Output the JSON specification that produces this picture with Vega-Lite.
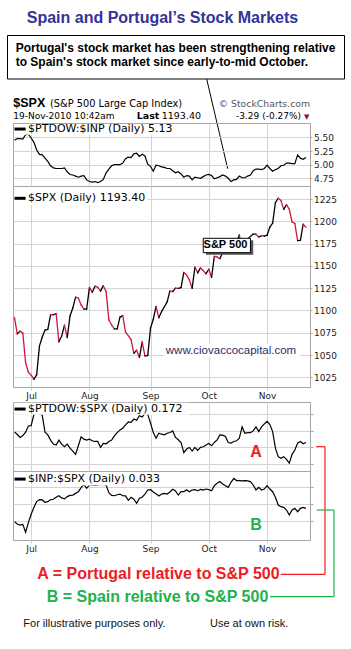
{
"$schema": "https://vega.github.io/schema/vega-lite/v6.json",
"background": "white",
"padding": {"left": 7, "top": 0, "right": 0, "bottom": 0},
"spacing": 0,
"bounds": "flush",
"config": {
  "view": {"stroke": "#a6a6a6", "strokeWidth": 1},
  "axis": {"labelFont": "DejaVu Sans", "labelFontSize": 9, "labelColor": "#222222", "gridColor": "#d4d4d4", "gridWidth": 1, "tickColor": "#a6a6a6", "domain": false, "labelOverlap": false}
},
"datasets": {"mkt": [
{"date":"2010-06-23","spx":1092.04,"ptinp":5.45,"ptspx":0.1746,"inpspx":0.03196},
{"date":"2010-06-24","spx":1073.69,"ptinp":5.48,"ptspx":0.1738,"inpspx":0.03182},
{"date":"2010-06-25","spx":1076.76,"ptinp":5.48,"ptspx":0.1729,"inpspx":0.03176},
{"date":"2010-06-28","spx":1074.57,"ptinp":5.47,"ptspx":0.1735,"inpspx":0.03180},
{"date":"2010-06-29","spx":1041.24,"ptinp":5.55,"ptspx":0.1745,"inpspx":0.03133},
{"date":"2010-06-30","spx":1030.71,"ptinp":5.56,"ptspx":0.1764,"inpspx":0.03190},
{"date":"2010-07-01","spx":1027.37,"ptinp":5.49,"ptspx":0.1765,"inpspx":0.03240},
{"date":"2010-07-02","spx":1022.58,"ptinp":5.41,"ptspx":0.1799,"inpspx":0.03281},
{"date":"2010-07-06","spx":1028.06,"ptinp":5.27,"ptspx":0.1806,"inpspx":0.03315},
{"date":"2010-07-07","spx":1060.27,"ptinp":5.19,"ptspx":0.1804,"inpspx":0.03327},
{"date":"2010-07-08","spx":1070.25,"ptinp":5.18,"ptspx":0.1796,"inpspx":0.03325},
{"date":"2010-07-09","spx":1077.96,"ptinp":5.12,"ptspx":0.1745,"inpspx":0.03311},
{"date":"2010-07-12","spx":1078.75,"ptinp":5.06,"ptspx":0.1737,"inpspx":0.03315},
{"date":"2010-07-13","spx":1095.34,"ptinp":4.98,"ptspx":0.1721,"inpspx":0.03327},
{"date":"2010-07-14","spx":1095.17,"ptinp":4.94,"ptspx":0.1709,"inpspx":0.03329},
{"date":"2010-07-15","spx":1096.48,"ptinp":4.93,"ptspx":0.1706,"inpspx":0.03341},
{"date":"2010-07-16","spx":1064.88,"ptinp":4.93,"ptspx":0.1721,"inpspx":0.03350},
{"date":"2010-07-19","spx":1071.25,"ptinp":4.93,"ptspx":0.1709,"inpspx":0.03337},
{"date":"2010-07-20","spx":1083.48,"ptinp":4.94,"ptspx":0.1701,"inpspx":0.03331},
{"date":"2010-07-21","spx":1069.59,"ptinp":4.87,"ptspx":0.1709,"inpspx":0.03345},
{"date":"2010-07-22","spx":1093.67,"ptinp":4.82,"ptspx":0.1697,"inpspx":0.03352},
{"date":"2010-07-23","spx":1102.66,"ptinp":4.81,"ptspx":0.1688,"inpspx":0.03354},
{"date":"2010-07-26","spx":1115.01,"ptinp":4.79,"ptspx":0.1678,"inpspx":0.03364},
{"date":"2010-07-27","spx":1113.84,"ptinp":4.77,"ptspx":0.1704,"inpspx":0.03374},
{"date":"2010-07-28","spx":1106.13,"ptinp":4.79,"ptspx":0.1731,"inpspx":0.03398},
{"date":"2010-07-29","spx":1101.53,"ptinp":4.80,"ptspx":0.1724,"inpspx":0.03418},
{"date":"2010-07-30","spx":1101.60,"ptinp":4.72,"ptspx":0.1721,"inpspx":0.03394},
{"date":"2010-08-02","spx":1125.86,"ptinp":4.69,"ptspx":0.1724,"inpspx":0.03414},
{"date":"2010-08-03","spx":1120.46,"ptinp":4.68,"ptspx":0.1719,"inpspx":0.03415},
{"date":"2010-08-04","spx":1127.24,"ptinp":4.69,"ptspx":0.1717,"inpspx":0.03412},
{"date":"2010-08-05","spx":1125.81,"ptinp":4.67,"ptspx":0.1717,"inpspx":0.03415},
{"date":"2010-08-06","spx":1121.64,"ptinp":4.69,"ptspx":0.1699,"inpspx":0.03418},
{"date":"2010-08-09","spx":1127.79,"ptinp":4.73,"ptspx":0.1711,"inpspx":0.03416},
{"date":"2010-08-10","spx":1121.06,"ptinp":4.85,"ptspx":0.1710,"inpspx":0.03413},
{"date":"2010-08-11","spx":1089.47,"ptinp":4.92,"ptspx":0.1717,"inpspx":0.03368},
{"date":"2010-08-12","spx":1083.61,"ptinp":4.98,"ptspx":0.1721,"inpspx":0.03352},
{"date":"2010-08-13","spx":1079.25,"ptinp":5.00,"ptspx":0.1734,"inpspx":0.03350},
{"date":"2010-08-16","spx":1079.38,"ptinp":5.00,"ptspx":0.1744,"inpspx":0.03356},
{"date":"2010-08-17","spx":1092.54,"ptinp":5.00,"ptspx":0.1752,"inpspx":0.03360},
{"date":"2010-08-18","spx":1094.16,"ptinp":5.03,"ptspx":0.1757,"inpspx":0.03350},
{"date":"2010-08-19","spx":1075.63,"ptinp":5.11,"ptspx":0.1767,"inpspx":0.03349},
{"date":"2010-08-20","spx":1071.69,"ptinp":5.14,"ptspx":0.1776,"inpspx":0.03323},
{"date":"2010-08-23","spx":1067.36,"ptinp":5.13,"ptspx":0.1775,"inpspx":0.03341},
{"date":"2010-08-24","spx":1051.87,"ptinp":5.20,"ptspx":0.1785,"inpspx":0.03329},
{"date":"2010-08-25","spx":1055.33,"ptinp":5.21,"ptspx":0.1781,"inpspx":0.03305},
{"date":"2010-08-26","spx":1047.22,"ptinp":5.15,"ptspx":0.1795,"inpspx":0.03335},
{"date":"2010-08-27","spx":1064.59,"ptinp":5.19,"ptspx":0.1791,"inpspx":0.03341},
{"date":"2010-08-30","spx":1048.92,"ptinp":5.16,"ptspx":0.1803,"inpspx":0.03360},
{"date":"2010-08-31","spx":1049.33,"ptinp":5.01,"ptspx":0.1799,"inpspx":0.03384},
{"date":"2010-09-01","spx":1080.29,"ptinp":4.97,"ptspx":0.1773,"inpspx":0.03386},
{"date":"2010-09-02","spx":1090.10,"ptinp":4.88,"ptspx":0.1744,"inpspx":0.03372},
{"date":"2010-09-03","spx":1104.51,"ptinp":4.99,"ptspx":0.1727,"inpspx":0.03362},
{"date":"2010-09-07","spx":1091.84,"ptinp":4.98,"ptspx":0.1742,"inpspx":0.03349},
{"date":"2010-09-08","spx":1098.87,"ptinp":4.96,"ptspx":0.1739,"inpspx":0.03360},
{"date":"2010-09-09","spx":1104.18,"ptinp":4.95,"ptspx":0.1737,"inpspx":0.03364},
{"date":"2010-09-10","spx":1109.55,"ptinp":4.93,"ptspx":0.1742,"inpspx":0.03360},
{"date":"2010-09-13","spx":1121.90,"ptinp":4.93,"ptspx":0.1744,"inpspx":0.03372},
{"date":"2010-09-14","spx":1121.10,"ptinp":4.89,"ptspx":0.1749,"inpspx":0.03388},
{"date":"2010-09-15","spx":1125.07,"ptinp":4.85,"ptspx":0.1729,"inpspx":0.03378},
{"date":"2010-09-16","spx":1124.66,"ptinp":4.87,"ptspx":0.1722,"inpspx":0.03354},
{"date":"2010-09-17","spx":1125.59,"ptinp":4.83,"ptspx":0.1714,"inpspx":0.03374},
{"date":"2010-09-20","spx":1142.71,"ptinp":4.77,"ptspx":0.1683,"inpspx":0.03374},
{"date":"2010-09-21","spx":1139.78,"ptinp":4.80,"ptspx":0.1694,"inpspx":0.03386},
{"date":"2010-09-22","spx":1134.28,"ptinp":4.79,"ptspx":0.1699,"inpspx":0.03374},
{"date":"2010-09-23","spx":1124.83,"ptinp":4.72,"ptspx":0.1688,"inpspx":0.03384},
{"date":"2010-09-24","spx":1148.67,"ptinp":4.77,"ptspx":0.1699,"inpspx":0.03386},
{"date":"2010-09-27","spx":1142.16,"ptinp":4.76,"ptspx":0.1690,"inpspx":0.03380},
{"date":"2010-09-28","spx":1147.70,"ptinp":4.75,"ptspx":0.1699,"inpspx":0.03388},
{"date":"2010-09-29","spx":1144.73,"ptinp":4.78,"ptspx":0.1701,"inpspx":0.03384},
{"date":"2010-09-30","spx":1141.20,"ptinp":4.81,"ptspx":0.1706,"inpspx":0.03390},
{"date":"2010-10-01","spx":1146.24,"ptinp":4.82,"ptspx":0.1711,"inpspx":0.03386},
{"date":"2010-10-04","spx":1137.03,"ptinp":4.80,"ptspx":0.1704,"inpspx":0.03380},
{"date":"2010-10-05","spx":1160.75,"ptinp":4.74,"ptspx":0.1714,"inpspx":0.03410},
{"date":"2010-10-06","spx":1159.97,"ptinp":4.76,"ptspx":0.1722,"inpspx":0.03424},
{"date":"2010-10-07","spx":1158.06,"ptinp":4.78,"ptspx":0.1737,"inpspx":0.03434},
{"date":"2010-10-08","spx":1165.15,"ptinp":4.81,"ptspx":0.1736,"inpspx":0.03420},
{"date":"2010-10-11","spx":1165.32,"ptinp":4.79,"ptspx":0.1732,"inpspx":0.03410},
{"date":"2010-10-12","spx":1169.77,"ptinp":4.75,"ptspx":0.1714,"inpspx":0.03400},
{"date":"2010-10-13","spx":1178.10,"ptinp":4.69,"ptspx":0.1712,"inpspx":0.03430},
{"date":"2010-10-14","spx":1173.81,"ptinp":4.72,"ptspx":0.1717,"inpspx":0.03453},
{"date":"2010-10-15","spx":1176.19,"ptinp":4.73,"ptspx":0.1719,"inpspx":0.03440},
{"date":"2010-10-18","spx":1184.71,"ptinp":4.79,"ptspx":0.1727,"inpspx":0.03440},
{"date":"2010-10-19","spx":1165.90,"ptinp":4.76,"ptspx":0.1761,"inpspx":0.03438},
{"date":"2010-10-20","spx":1178.17,"ptinp":4.76,"ptspx":0.1742,"inpspx":0.03440},
{"date":"2010-10-21","spx":1180.26,"ptinp":4.79,"ptspx":0.1744,"inpspx":0.03438},
{"date":"2010-10-22","spx":1183.08,"ptinp":4.81,"ptspx":0.1744,"inpspx":0.03434},
{"date":"2010-10-25","spx":1185.62,"ptinp":4.89,"ptspx":0.1749,"inpspx":0.03414},
{"date":"2010-10-26","spx":1185.64,"ptinp":4.92,"ptspx":0.1761,"inpspx":0.03384},
{"date":"2010-10-27","spx":1182.45,"ptinp":4.92,"ptspx":0.1747,"inpspx":0.03400},
{"date":"2010-10-28","spx":1183.78,"ptinp":4.91,"ptspx":0.1761,"inpspx":0.03384},
{"date":"2010-10-29","spx":1183.26,"ptinp":4.93,"ptspx":0.1770,"inpspx":0.03390},
{"date":"2010-11-01","spx":1184.38,"ptinp":4.99,"ptspx":0.1778,"inpspx":0.03410},
{"date":"2010-11-02","spx":1193.57,"ptinp":4.93,"ptspx":0.1768,"inpspx":0.03390},
{"date":"2010-11-03","spx":1197.96,"ptinp":4.88,"ptspx":0.1747,"inpspx":0.03374},
{"date":"2010-11-04","spx":1221.06,"ptinp":4.91,"ptspx":0.1697,"inpspx":0.03341},
{"date":"2010-11-05","spx":1225.85,"ptinp":4.93,"ptspx":0.1671,"inpspx":0.03295},
{"date":"2010-11-08","spx":1223.25,"ptinp":4.98,"ptspx":0.1666,"inpspx":0.03285},
{"date":"2010-11-09","spx":1213.40,"ptinp":4.99,"ptspx":0.1671,"inpspx":0.03281},
{"date":"2010-11-10","spx":1218.71,"ptinp":5.03,"ptspx":0.1663,"inpspx":0.03265},
{"date":"2010-11-11","spx":1213.54,"ptinp":5.03,"ptspx":0.1651,"inpspx":0.03236},
{"date":"2010-11-12","spx":1199.21,"ptinp":5.02,"ptspx":0.1678,"inpspx":0.03265},
{"date":"2010-11-15","spx":1197.75,"ptinp":5.02,"ptspx":0.1691,"inpspx":0.03275},
{"date":"2010-11-16","spx":1178.34,"ptinp":5.18,"ptspx":0.1712,"inpspx":0.03255},
{"date":"2010-11-17","spx":1178.59,"ptinp":5.12,"ptspx":0.1717,"inpspx":0.03275},
{"date":"2010-11-18","spx":1196.69,"ptinp":5.10,"ptspx":0.1710,"inpspx":0.03281},
{"date":"2010-11-19","spx":1193.40,"ptinp":5.13,"ptspx":0.1714,"inpspx":0.03275}
]},
"vconcat": [
{
 "width": 297, "height": 123, "view": {"stroke": null},
 "data": {"values": [{}]},
 "layer": [
  {"mark": {"type": "text", "text": "Spain and Portugal’s Stock Markets", "font": "Liberation Sans", "fontSize": 16, "fontWeight": "bold", "fill": "#333399", "align": "center", "baseline": "alphabetic", "clip": false},
   "encoding": {"x": {"datum": 162.5, "type": "quantitative", "scale": {"domain": [13, 310], "nice": false, "zero": false}, "axis": null},
                "y": {"datum": 22.7, "type": "quantitative", "scale": {"domain": [0, 123], "reverse": true, "nice": false, "zero": false}, "axis": null}}},
  {"mark": {"type": "rect", "fill": "white", "stroke": "black", "strokeWidth": 1, "clip": false},
   "encoding": {"x": {"datum": 7.5, "type": "quantitative", "scale": {"domain": [13, 310], "nice": false, "zero": false}, "axis": null},
                "x2": {"datum": 344.5},
                "y": {"datum": 35.5, "type": "quantitative", "scale": {"domain": [0, 123], "reverse": true, "nice": false, "zero": false}, "axis": null},
                "y2": {"datum": 79}}},
  {"mark": {"type": "text", "text": "Portugal's stock market has been strengthening relative", "font": "Liberation Sans", "fontSize": 12, "fontWeight": "bold", "fill": "black", "align": "left", "baseline": "alphabetic", "clip": false},
   "encoding": {"x": {"datum": 15.7, "type": "quantitative", "scale": {"domain": [13, 310], "nice": false, "zero": false}, "axis": null},
                "y": {"datum": 52.3, "type": "quantitative", "scale": {"domain": [0, 123], "reverse": true, "nice": false, "zero": false}, "axis": null}}},
  {"mark": {"type": "text", "text": "to Spain's stock market since early-to-mid October.", "font": "Liberation Sans", "fontSize": 12, "fontWeight": "bold", "fill": "black", "align": "left", "baseline": "alphabetic", "clip": false},
   "encoding": {"x": {"datum": 15.7, "type": "quantitative", "scale": {"domain": [13, 310], "nice": false, "zero": false}, "axis": null},
                "y": {"datum": 65.7, "type": "quantitative", "scale": {"domain": [0, 123], "reverse": true, "nice": false, "zero": false}, "axis": null}}},
  {"mark": {"type": "rule", "color": "black", "strokeWidth": 1, "clip": false},
   "encoding": {"x": {"datum": 206.7, "type": "quantitative", "scale": {"domain": [13, 310], "nice": false, "zero": false}, "axis": null},
                "x2": {"datum": 227.7},
                "y": {"datum": 79, "type": "quantitative", "scale": {"domain": [0, 123], "reverse": true, "nice": false, "zero": false}, "axis": null},
                "y2": {"datum": 168.7}}},
  {"mark": {"type": "text", "text": "$SPX", "font": "Liberation Sans", "fontSize": 12.5, "fontWeight": "bold", "fill": "black", "align": "left", "baseline": "alphabetic", "clip": false},
   "encoding": {"x": {"datum": 13.3, "type": "quantitative", "scale": {"domain": [13, 310], "nice": false, "zero": false}, "axis": null},
                "y": {"datum": 107.3, "type": "quantitative", "scale": {"domain": [0, 123], "reverse": true, "nice": false, "zero": false}, "axis": null}}},
  {"mark": {"type": "text", "text": "(S&P 500 Large Cap Index)", "font": "DejaVu Sans", "fontSize": 9.8, "fill": "black", "align": "left", "baseline": "alphabetic", "clip": false},
   "encoding": {"x": {"datum": 50, "type": "quantitative", "scale": {"domain": [13, 310], "nice": false, "zero": false}, "axis": null},
                "y": {"datum": 107.3, "type": "quantitative", "scale": {"domain": [0, 123], "reverse": true, "nice": false, "zero": false}, "axis": null}}},
  {"mark": {"type": "text", "text": "© StockCharts.com", "font": "DejaVu Sans", "fontSize": 9.3, "fill": "#555555", "align": "right", "baseline": "alphabetic", "clip": false},
   "encoding": {"x": {"datum": 310, "type": "quantitative", "scale": {"domain": [13, 310], "nice": false, "zero": false}, "axis": null},
                "y": {"datum": 107.3, "type": "quantitative", "scale": {"domain": [0, 123], "reverse": true, "nice": false, "zero": false}, "axis": null}}},
  {"mark": {"type": "text", "text": "19-Nov-2010 10:42am", "font": "DejaVu Sans", "fontSize": 9, "fill": "black", "align": "left", "baseline": "alphabetic", "clip": false},
   "encoding": {"x": {"datum": 13.3, "type": "quantitative", "scale": {"domain": [13, 310], "nice": false, "zero": false}, "axis": null},
                "y": {"datum": 119.3, "type": "quantitative", "scale": {"domain": [0, 123], "reverse": true, "nice": false, "zero": false}, "axis": null}}},
  {"mark": {"type": "text", "text": "Last", "font": "DejaVu Sans", "fontSize": 9.5, "fontWeight": "bold", "fill": "black", "align": "left", "baseline": "alphabetic", "clip": false},
   "encoding": {"x": {"datum": 136.7, "type": "quantitative", "scale": {"domain": [13, 310], "nice": false, "zero": false}, "axis": null},
                "y": {"datum": 119.3, "type": "quantitative", "scale": {"domain": [0, 123], "reverse": true, "nice": false, "zero": false}, "axis": null}}},
  {"mark": {"type": "text", "text": "1193.40", "font": "DejaVu Sans", "fontSize": 9.5, "fill": "black", "align": "left", "baseline": "alphabetic", "clip": false},
   "encoding": {"x": {"datum": 161.7, "type": "quantitative", "scale": {"domain": [13, 310], "nice": false, "zero": false}, "axis": null},
                "y": {"datum": 119.3, "type": "quantitative", "scale": {"domain": [0, 123], "reverse": true, "nice": false, "zero": false}, "axis": null}}},
  {"mark": {"type": "text", "text": "-3.29 (-0.27%)", "font": "DejaVu Sans", "fontSize": 9, "fill": "black", "align": "left", "baseline": "alphabetic", "clip": false},
   "encoding": {"x": {"datum": 236, "type": "quantitative", "scale": {"domain": [13, 310], "nice": false, "zero": false}, "axis": null},
                "y": {"datum": 119.3, "type": "quantitative", "scale": {"domain": [0, 123], "reverse": true, "nice": false, "zero": false}, "axis": null}}},
  {"mark": {"type": "text", "text": "▼", "font": "DejaVu Sans", "fontSize": 7, "fill": "#990033", "align": "center", "baseline": "alphabetic", "clip": false},
   "encoding": {"x": {"datum": 306.7, "type": "quantitative", "scale": {"domain": [13, 310], "nice": false, "zero": false}, "axis": null},
                "y": {"datum": 118.8, "type": "quantitative", "scale": {"domain": [0, 123], "reverse": true, "nice": false, "zero": false}, "axis": null}}}
 ]
},
{
 "width": 297, "height": 63,
 "data": {"name": "mkt"},
 "layer": [
  {"mark": {"type": "line", "color": "black", "strokeWidth": 1.2},
   "encoding": {
     "x": {"field": "date", "type": "ordinal", "scale": {"type": "point", "padding": 1.14, "align": 0.27},
           "axis": {"values": ["2010-07-01","2010-08-02","2010-09-01","2010-10-01","2010-11-01"], "labels": false, "ticks": false, "grid": true, "title": null}},
     "y": {"field": "ptinp", "type": "quantitative", "scale": {"domain": [4.608, 5.766], "nice": false, "zero": false},
           "axis": {"orient": "right", "values": [4.75, 5, 5.25, 5.5], "tickCount": 50, "format": ".2f", "grid": true, "ticks": true, "tickSize": 2, "labelPadding": 1.5, "labelOverlap": false, "labelFlush": false, "title": null}}}},
  {"data": {"values": [{}]}, "mark": {"type": "rect", "fill": "white"},
   "encoding": {"x": {"datum": "2010-06-23", "type": "ordinal"}, "x2": {"datum": "2010-09-17"},
                "y": {"datum": 5.748, "type": "quantitative"}, "y2": {"datum": 5.55}}},
  {"data": {"values": [{}]}, "mark": {"type": "rule", "color": "black", "strokeWidth": 3},
   "encoding": {"x": {"datum": "2010-06-23", "type": "ordinal"}, "x2": {"datum": "2010-06-29"},
                "y": {"datum": 5.655, "type": "quantitative"}}},
  {"data": {"values": [{}]}, "mark": {"type": "text", "text": "$PTDOW:$INP (Daily) 5.13", "font": "DejaVu Sans", "fontSize": 11, "fill": "black", "align": "left", "baseline": "middle", "dx": 13.6},
   "encoding": {"x": {"datum": "2010-06-23", "type": "ordinal"}, "y": {"datum": 5.655, "type": "quantitative"}}}
 ]
},
{
 "width": 297, "height": 201,
 "data": {"name": "mkt"},
 "layer": [
  {"transform": [
     {"window": [{"op": "lag", "field": "date", "as": "pdate"}, {"op": "lag", "field": "spx", "as": "pspx"}], "sort": [{"field": "date"}]},
     {"filter": "datum.pdate != null"}],
   "mark": {"type": "rule", "strokeWidth": 1.3, "strokeCap": "round"},
   "encoding": {
     "x": {"field": "date", "type": "ordinal", "scale": {"type": "point", "padding": 1.14, "align": 0.27},
           "axis": {"values": ["2010-07-01","2010-08-02","2010-09-01","2010-10-01","2010-11-01"], "labelExpr": "['Jan','Feb','Mar','Apr','May','Jun','Jul','Aug','Sep','Oct','Nov','Dec'][toNumber(substring(datum.value,5,7))-1]", "labelAngle": 0, "grid": true, "ticks": true, "tickSize": 3, "tickColor": "#cccccc", "labelPadding": 1.5, "title": null}},
     "x2": {"field": "pdate"},
     "y": {"field": "spx", "type": "quantitative", "scale": {"domain": [1014.1, 1239.6], "nice": false, "zero": false},
           "axis": {"orient": "right", "values": [1025, 1050, 1075, 1100, 1125, 1150, 1175, 1200, 1225], "tickCount": 50, "format": "d", "grid": true, "ticks": true, "tickSize": 2, "labelPadding": 1.5, "labelOverlap": false, "labelFlush": false, "title": null}},
     "y2": {"field": "pspx"},
     "color": {"condition": {"test": "datum.spx < datum.pspx", "value": "#d4143c"}, "value": "#000000"}}},
  {"data": {"values": [{}]}, "mark": {"type": "rect", "fill": "white"},
   "encoding": {"x": {"datum": "2010-09-09", "type": "ordinal"}, "x2": {"datum": "2010-11-17"},
                "y": {"datum": 1062.4, "type": "quantitative"}, "y2": {"datum": 1047.3}}},
  {"data": {"values": [{}]}, "mark": {"type": "text", "text": "www.ciovaccocapital.com", "font": "Liberation Sans", "fontSize": 11.5, "fill": "#2b2b6b", "align": "center", "baseline": "middle"},
   "encoding": {"x": {"datum": "2010-10-13", "type": "ordinal"}, "y": {"datum": 1054.9, "type": "quantitative"}}},
  {"data": {"values": [{}]}, "mark": {"type": "rect", "fill": "white"},
   "encoding": {"x": {"datum": "2010-06-23", "type": "ordinal"}, "x2": {"datum": "2010-08-31"},
                "y": {"datum": 1238.0, "type": "quantitative"}, "y2": {"datum": 1218.3}}},
  {"data": {"values": [{}]}, "mark": {"type": "rule", "color": "black", "strokeWidth": 3},
   "encoding": {"x": {"datum": "2010-06-23", "type": "ordinal"}, "x2": {"datum": "2010-06-29"},
                "y": {"datum": 1225.8, "type": "quantitative"}}},
  {"data": {"values": [{}]}, "mark": {"type": "text", "text": "$SPX (Daily) 1193.40", "font": "DejaVu Sans", "fontSize": 11, "fill": "black", "align": "left", "baseline": "middle", "dx": 13.6},
   "encoding": {"x": {"datum": "2010-06-23", "type": "ordinal"}, "y": {"datum": 1225.8, "type": "quantitative"}}},
  {"data": {"values": [{}]}, "mark": {"type": "rect", "fill": "#555555"},
   "encoding": {"x": {"datum": "2010-09-30", "type": "ordinal"}, "x2": {"datum": "2010-10-25"},
                "y": {"datum": 1178.6, "type": "quantitative"}, "y2": {"datum": 1162.5}}},
  {"data": {"values": [{}]}, "mark": {"type": "rect", "fill": "white", "stroke": "black", "strokeWidth": 1},
   "encoding": {"x": {"datum": "2010-09-29", "type": "ordinal"}, "x2": {"datum": "2010-10-22"},
                "y": {"datum": 1180.9, "type": "quantitative"}, "y2": {"datum": 1164.8}}},
  {"data": {"values": [{}]}, "mark": {"type": "text", "text": "S&P 500", "font": "Liberation Sans", "fontSize": 11, "fontWeight": "bold", "fill": "black", "align": "center", "baseline": "middle"},
   "encoding": {"x": {"datum": "2010-10-11", "type": "ordinal"}, "y": {"datum": 1172.9, "type": "quantitative"}}}
 ]
},
{
 "width": 297, "height": 15, "view": {"stroke": null},
 "data": {"values": [{}]},
 "mark": {"type": "text", "text": ""},
 "encoding": {}
},
{
 "width": 297, "height": 69,
 "data": {"name": "mkt"},
 "layer": [
  {"mark": {"type": "line", "color": "black", "strokeWidth": 1.2},
   "encoding": {
     "x": {"field": "date", "type": "ordinal", "scale": {"type": "point", "padding": 1.14, "align": 0.27},
           "axis": {"values": ["2010-07-01","2010-08-02","2010-09-01","2010-10-01","2010-11-01"], "labels": false, "ticks": false, "grid": true, "title": null}},
     "y": {"field": "ptspx", "type": "quantitative", "scale": {"domain": [0.16276, 0.18365], "nice": false, "zero": false},
           "axis": {"orient": "right", "values": [0.165, 0.17, 0.175, 0.18], "tickCount": 50, "labels": false, "grid": true, "ticks": true, "tickSize": 3, "title": null}}}},
  {"data": {"values": [{}]}, "mark": {"type": "rect", "fill": "white"},
   "encoding": {"x": {"datum": "2010-06-23", "type": "ordinal"}, "x2": {"datum": "2010-09-22"},
                "y": {"datum": 0.1834, "type": "quantitative"}, "y2": {"datum": 0.1798}}},
  {"data": {"values": [{}]}, "mark": {"type": "rule", "color": "black", "strokeWidth": 3},
   "encoding": {"x": {"datum": "2010-06-23", "type": "ordinal"}, "x2": {"datum": "2010-06-29"},
                "y": {"datum": 0.18152, "type": "quantitative"}}},
  {"data": {"values": [{}]}, "mark": {"type": "text", "text": "$PTDOW:$SPX (Daily) 0.172", "font": "DejaVu Sans", "fontSize": 11, "fill": "black", "align": "left", "baseline": "middle", "dx": 13.6},
   "encoding": {"x": {"datum": "2010-06-23", "type": "ordinal"}, "y": {"datum": 0.18152, "type": "quantitative"}}},
  {"data": {"values": [{}]}, "mark": {"type": "text", "text": "A", "font": "Liberation Sans", "fontSize": 16, "fontWeight": "bold", "fill": "#ed1c24", "align": "center", "baseline": "middle"},
   "encoding": {"x": {"datum": "2010-10-26", "type": "ordinal"}, "y": {"datum": 0.16866, "type": "quantitative"}}}
 ]
},
{
 "width": 297, "height": 69,
 "data": {"name": "mkt"},
 "layer": [
  {"mark": {"type": "line", "color": "black", "strokeWidth": 1.2},
   "encoding": {
     "x": {"field": "date", "type": "ordinal", "scale": {"type": "point", "padding": 1.14, "align": 0.27},
           "axis": {"values": ["2010-07-01","2010-08-02","2010-09-01","2010-10-01","2010-11-01"], "labelExpr": "['Jan','Feb','Mar','Apr','May','Jun','Jul','Aug','Sep','Oct','Nov','Dec'][toNumber(substring(datum.value,5,7))-1]", "labelAngle": 0, "grid": true, "ticks": true, "tickSize": 3, "tickColor": "#cccccc", "labelPadding": 1.5, "title": null}},
     "y": {"field": "inpspx", "type": "quantitative", "scale": {"domain": [0.03087, 0.03497], "nice": false, "zero": false},
           "axis": {"orient": "right", "values": [0.032, 0.033, 0.034], "tickCount": 50, "labels": false, "grid": true, "ticks": true, "tickSize": 3, "title": null}}}},
  {"data": {"values": [{}]}, "mark": {"type": "rect", "fill": "white"},
   "encoding": {"x": {"datum": "2010-06-23", "type": "ordinal"}, "x2": {"datum": "2010-09-09"},
                "y": {"datum": 0.03491, "type": "quantitative"}, "y2": {"datum": 0.03411}}},
  {"data": {"values": [{}]}, "mark": {"type": "rule", "color": "black", "strokeWidth": 3},
   "encoding": {"x": {"datum": "2010-06-23", "type": "ordinal"}, "x2": {"datum": "2010-06-29"},
                "y": {"datum": 0.03449, "type": "quantitative"}}},
  {"data": {"values": [{}]}, "mark": {"type": "text", "text": "$INP:$SPX (Daily) 0.033", "font": "DejaVu Sans", "fontSize": 11, "fill": "black", "align": "left", "baseline": "middle", "dx": 13.6},
   "encoding": {"x": {"datum": "2010-06-23", "type": "ordinal"}, "y": {"datum": 0.03449, "type": "quantitative"}}},
  {"data": {"values": [{}]}, "mark": {"type": "text", "text": "B", "font": "Liberation Sans", "fontSize": 16, "fontWeight": "bold", "fill": "#22b14c", "align": "center", "baseline": "middle"},
   "encoding": {"x": {"datum": "2010-10-26", "type": "ordinal"}, "y": {"datum": 0.03176, "type": "quantitative"}}}
 ]
},
{
 "width": 297, "height": 109, "view": {"stroke": null},
 "data": {"values": [{}]},
 "layer": [
  {"mark": {"type": "text", "text": "A = Portugal relative to S&P 500", "font": "Liberation Sans", "fontSize": 16, "fontWeight": "bold", "fill": "#ed1c24", "align": "left", "baseline": "alphabetic", "clip": false},
   "encoding": {"x": {"datum": 37.3, "type": "quantitative", "scale": {"domain": [13, 310], "nice": false, "zero": false}, "axis": null},
                "y": {"datum": 579.3, "type": "quantitative", "scale": {"domain": [540, 649], "reverse": true, "nice": false, "zero": false}, "axis": null}}},
  {"mark": {"type": "text", "text": "B = Spain relative to S&P 500", "font": "Liberation Sans", "fontSize": 16, "fontWeight": "bold", "fill": "#22b14c", "align": "left", "baseline": "alphabetic", "clip": false},
   "encoding": {"x": {"datum": 46.7, "type": "quantitative", "scale": {"domain": [13, 310], "nice": false, "zero": false}, "axis": null},
                "y": {"datum": 601.7, "type": "quantitative", "scale": {"domain": [540, 649], "reverse": true, "nice": false, "zero": false}, "axis": null}}},
  {"mark": {"type": "text", "text": "For illustrative purposes only.", "font": "Liberation Sans", "fontSize": 11, "fill": "#111111", "align": "left", "baseline": "alphabetic", "clip": false},
   "encoding": {"x": {"datum": 23.3, "type": "quantitative", "scale": {"domain": [13, 310], "nice": false, "zero": false}, "axis": null},
                "y": {"datum": 627.3, "type": "quantitative", "scale": {"domain": [540, 649], "reverse": true, "nice": false, "zero": false}, "axis": null}}},
  {"mark": {"type": "text", "text": "Use at own risk.", "font": "Liberation Sans", "fontSize": 11, "fill": "#111111", "align": "left", "baseline": "alphabetic", "clip": false},
   "encoding": {"x": {"datum": 210, "type": "quantitative", "scale": {"domain": [13, 310], "nice": false, "zero": false}, "axis": null},
                "y": {"datum": 627.3, "type": "quantitative", "scale": {"domain": [540, 649], "reverse": true, "nice": false, "zero": false}, "axis": null}}},
  {"mark": {"type": "rule", "color": "#ed1c24", "strokeWidth": 1.2, "clip": false},
   "encoding": {"x": {"datum": 316, "type": "quantitative", "scale": {"domain": [13, 310], "nice": false, "zero": false}, "axis": null}, "x2": {"datum": 325},
                "y": {"datum": 446.7, "type": "quantitative", "scale": {"domain": [540, 649], "reverse": true, "nice": false, "zero": false}, "axis": null}}},
  {"mark": {"type": "rule", "color": "#ed1c24", "strokeWidth": 1.2, "clip": false},
   "encoding": {"x": {"datum": 325, "type": "quantitative", "scale": {"domain": [13, 310], "nice": false, "zero": false}, "axis": null},
                "y": {"datum": 446.7, "type": "quantitative", "scale": {"domain": [540, 649], "reverse": true, "nice": false, "zero": false}, "axis": null}, "y2": {"datum": 574.3}}},
  {"mark": {"type": "rule", "color": "#ed1c24", "strokeWidth": 1.2, "clip": false},
   "encoding": {"x": {"datum": 280.7, "type": "quantitative", "scale": {"domain": [13, 310], "nice": false, "zero": false}, "axis": null}, "x2": {"datum": 325},
                "y": {"datum": 574.3, "type": "quantitative", "scale": {"domain": [540, 649], "reverse": true, "nice": false, "zero": false}, "axis": null}}},
  {"mark": {"type": "rule", "color": "#22b14c", "strokeWidth": 1.2, "clip": false},
   "encoding": {"x": {"datum": 316.7, "type": "quantitative", "scale": {"domain": [13, 310], "nice": false, "zero": false}, "axis": null}, "x2": {"datum": 334},
                "y": {"datum": 510, "type": "quantitative", "scale": {"domain": [540, 649], "reverse": true, "nice": false, "zero": false}, "axis": null}}},
  {"mark": {"type": "rule", "color": "#22b14c", "strokeWidth": 1.2, "clip": false},
   "encoding": {"x": {"datum": 334, "type": "quantitative", "scale": {"domain": [13, 310], "nice": false, "zero": false}, "axis": null},
                "y": {"datum": 510, "type": "quantitative", "scale": {"domain": [540, 649], "reverse": true, "nice": false, "zero": false}, "axis": null}, "y2": {"datum": 596.7}}},
  {"mark": {"type": "rule", "color": "#22b14c", "strokeWidth": 1.2, "clip": false},
   "encoding": {"x": {"datum": 270, "type": "quantitative", "scale": {"domain": [13, 310], "nice": false, "zero": false}, "axis": null}, "x2": {"datum": 334},
                "y": {"datum": 596.7, "type": "quantitative", "scale": {"domain": [540, 649], "reverse": true, "nice": false, "zero": false}, "axis": null}}}
 ]
}
]
}
